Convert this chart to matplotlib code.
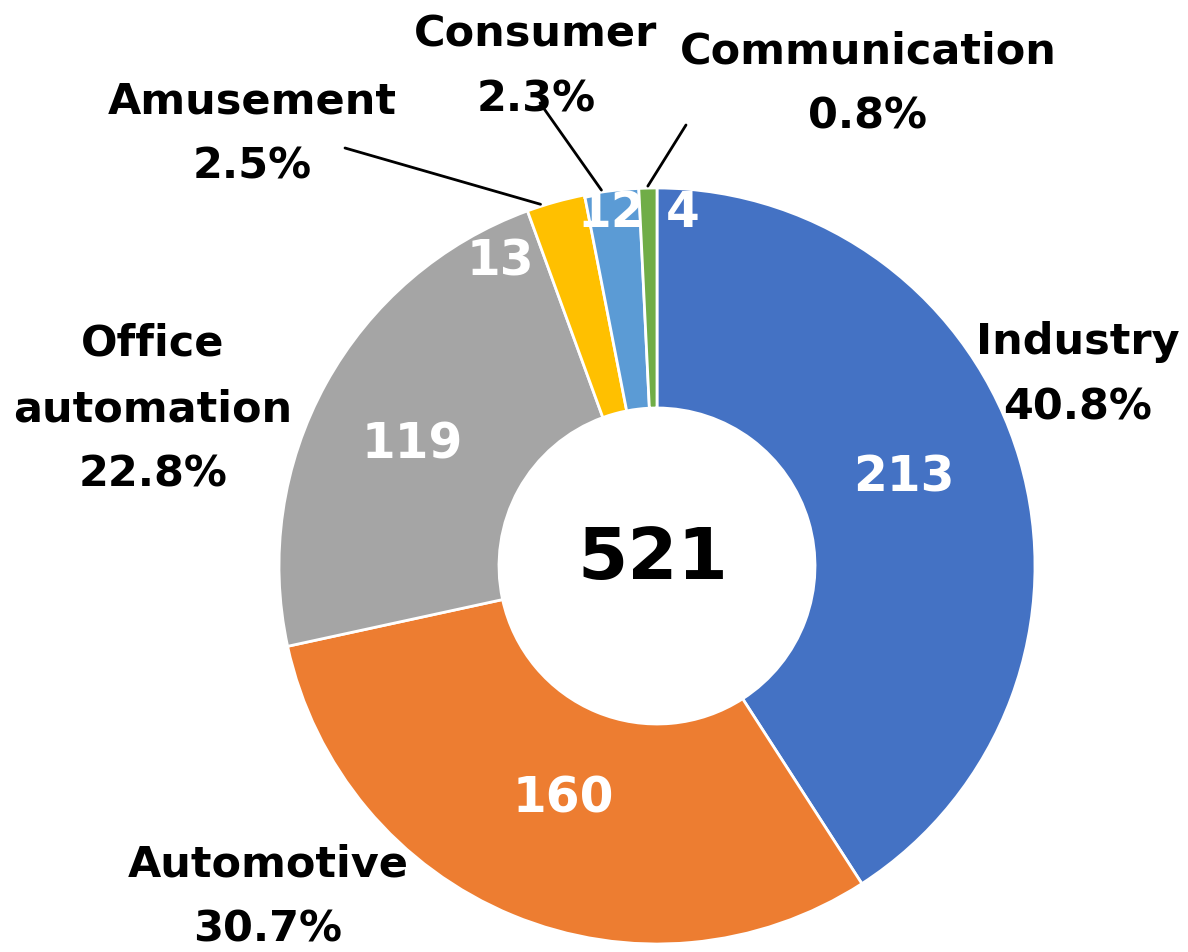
import matplotlib
matplotlib.use("Agg")
import matplotlib.pyplot as plt
import numpy as np

# ---- data ----
categories = ["Industry", "Automotive", "Office\nautomation", "Amusement", "Consumer", "Communication"]
values = [213, 160, 119, 13, 12, 4]
percent_labels = ["40.8%", "30.7%", "22.8%", "2.5%", "2.3%", "0.8%"]
total_label = "521"
colors = ["#4472C4", "#ED7D31", "#A5A5A5", "#FFC000", "#5B9BD5", "#70AD47"]

W, H = 1188, 952
fig = plt.figure(figsize=(W / 100, H / 100), dpi=100)
ax = fig.add_axes([0, 0, 1, 1])

cx, cy = 657, H - 566
R = 378
ring = 0.582 * R
ax.pie(values, colors=colors, startangle=90, counterclock=False,
       center=(cx, cy), radius=R,
       wedgeprops=dict(width=ring, edgecolor="white", linewidth=2.0))
ax.set_xlim(0, W)
ax.set_ylim(0, H)
ax.set_aspect("equal")
ax.axis("off")

font = "DejaVu Sans"
tot = sum(values)
cum = np.cumsum([0] + values)
mids = [90 - 360 * (cum[i] + values[i] / 2) / tot for i in range(len(values))]

# value labels inside (polar offsets: angle shift deg, radius px)
val_pos = [(3.3, 262), (0.5, 251), (2.5, 273), (11.7, 342), (0.4, 356), (-5.6, 354)]
for v, m, (da, rr) in zip(values, mids, val_pos):
    a = np.deg2rad(m + da)
    ax.text(cx + rr * np.cos(a), cy + rr * np.sin(a), str(v), color="white",
            fontsize=35, fontweight="bold", family=font, ha="center", va="center")

ax.text(653, H - 560, total_label, fontsize=52, fontweight="bold", family=font,
        ha="center", va="center", color="black")

# outside labels (pixel positions of label centers)
lab_pos = [(1078, 375), (268, 897), (153, 409), (252, 134), (536, 67), (868, 84)]
for c, p, (x, y) in zip(categories, percent_labels, lab_pos):
    ax.text(x, H - y, f"{c}\n{p}", fontsize=31, fontweight="bold", family=font,
            ha="center", va="center", linespacing=1.72, color="black")

# leader lines for small slices
leader_start = {3: (345, 148), 4: (540, 103), 5: (686, 125)}
leader_shift = {3: 2.3, 4: 1.5, 5: 0.0}
for i, (sx, sy) in leader_start.items():
    a = np.deg2rad(mids[i] + leader_shift[i])
    ax.annotate("", xy=(cx + (R + 2) * np.cos(a), cy + (R + 2) * np.sin(a)),
                xytext=(sx, H - sy),
                arrowprops=dict(arrowstyle="-", color="black", lw=2.0,
                                shrinkA=0, shrinkB=0))

fig.savefig("out.png", dpi=100)
